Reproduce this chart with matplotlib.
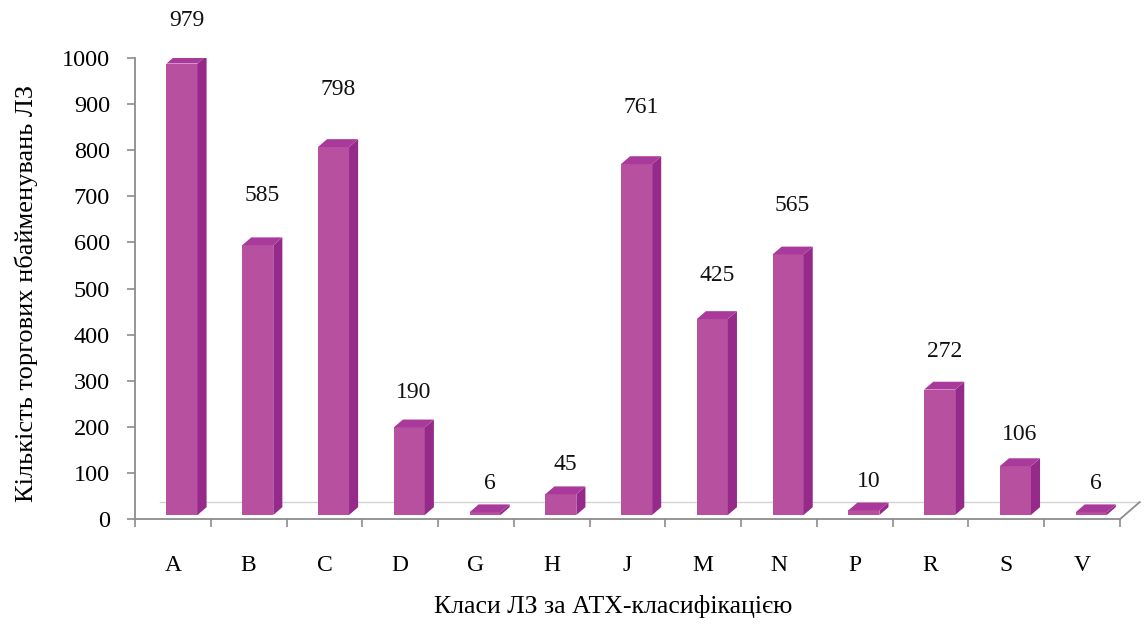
import numpy as np
import matplotlib.pyplot as plt
from matplotlib.patches import Polygon

plt.rcParams['font.family'] = ['Liberation Serif', 'DejaVu Serif']

classes = ['A', 'B', 'C', 'D', 'G', 'H', 'J', 'M', 'N', 'P', 'R', 'S', 'V']
counts = [979, 585, 798, 190, 6, 45, 761, 425, 565, 10, 272, 106, 6]

front_col = '#b6509f'
side_col = '#952a8a'
top_col = '#a93a9b'

fig = plt.figure(figsize=(11.44, 6.27), dpi=100)
ax = fig.add_axes([0.118, 0.172, 0.861, 0.7355])

# pseudo-3D column geometry (x in category units, y in data units)
w = 0.41       # front face width
shift = 0.12   # front face offset from category centre
dx = 0.12      # depth offset in x
dy = 17        # depth offset in y
base = 9       # front face sits slightly above the axis

# floor back edge and right edge
ax.plot([-0.17, 12.76], [37, 37], color='#d4d4d4', lw=1, clip_on=False, zorder=1)
ax.plot([12.5, 12.76], [0, 37], color='#8c8c8c', lw=1.3, clip_on=False, zorder=1)

for i, v in enumerate(counts):
    x0 = i + shift - w / 2
    x1 = i + shift + w / 2
    y0 = base
    y1 = base + v
    front = Polygon([(x0, y0), (x1, y0), (x1, y1), (x0, y1)],
                    closed=True, facecolor=front_col, edgecolor='none', zorder=3)
    side = Polygon([(x1, y0), (x1 + dx, y0 + dy), (x1 + dx, y1 + dy), (x1, y1)],
                   closed=True, facecolor=side_col, edgecolor='none', zorder=3)
    top = Polygon([(x0, y1), (x1, y1), (x1 + dx, y1 + dy), (x0 + dx, y1 + dy)],
                  closed=True, facecolor=top_col, edgecolor='none', zorder=3)
    for p in (front, side, top):
        ax.add_patch(p)
    ly = min(v + 70 + 0.08 * v, 1082)
    ax.text(i + shift + dx / 2, ly, str(v), ha='center', va='center',
            fontsize=17, color='#111111', clip_on=False)

ax.set_xlim(-0.5, 12.5)
ax.set_ylim(0, 1000)

ax.set_yticks(np.arange(0, 1001, 100))
ax.set_xticks(np.arange(len(classes)))
ax.set_xticklabels(classes)
ax.set_xticks(np.arange(-0.5, len(classes)), minor=True)
ax.tick_params(axis='x', which='major', length=0, pad=26, labelsize=17)
ax.tick_params(axis='x', which='minor', length=6, width=1.2, color='#8c8c8c',
               direction='out')
ax.tick_params(axis='y', length=6, width=1.2, color='#8c8c8c', pad=12,
               labelsize=17.5)

for s in ('top', 'right'):
    ax.spines[s].set_visible(False)
for s in ('left', 'bottom'):
    ax.spines[s].set_color('#8c8c8c')
    ax.spines[s].set_linewidth(1.3)

ax.set_xlabel('Класи ЛЗ за АТХ-класифікацією', fontsize=18.5)
ax.xaxis.set_label_coords(0.485, -0.165)
ax.set_ylabel('Кількість торгових нбайменувань ЛЗ', fontsize=19)
ax.yaxis.set_label_coords(-0.098, 0.49)

fig.savefig('out.png', dpi=100)
